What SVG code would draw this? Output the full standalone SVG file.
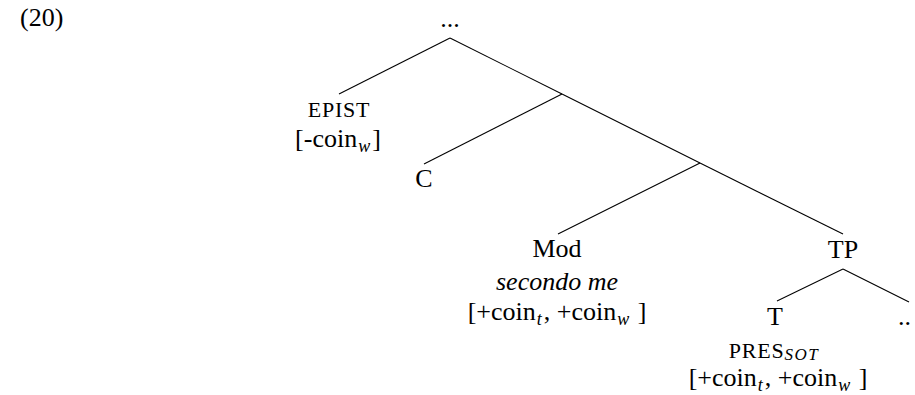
<svg xmlns="http://www.w3.org/2000/svg" width="915" height="395" viewBox="0 0 915 395">
<style>
text{font-family:"Liberation Serif","Times New Roman",serif;font-size:26px;fill:#000}
.c{text-anchor:middle}
.sc{font-size:22px;letter-spacing:0.8px}
.it{font-style:italic}
.sub{font-style:italic;font-size:18px}
.ssub{font-style:italic;font-size:17px;letter-spacing:1.5px}
.edge{stroke:#000;stroke-width:1.1;fill:none}
</style>
<rect width="915" height="395" fill="#fff"/>
<text x="20" y="26" font-size="25">(20)</text>
<g id="connectors">
<line class="edge" x1="450" y1="38" x2="339" y2="94"/>
<line class="edge" x1="450" y1="38" x2="562" y2="94"/>
<line class="edge" x1="562" y1="94" x2="424" y2="164"/>
<line class="edge" x1="562" y1="94" x2="700" y2="163"/>
<line class="edge" x1="700" y1="163" x2="558" y2="234"/>
<line class="edge" x1="700" y1="163" x2="843" y2="234"/>
<line class="edge" x1="843" y1="269" x2="777" y2="301"/>
<line class="edge" x1="843" y1="269" x2="909" y2="302"/>
</g>
<g id="root"><text class="c" x="450" y="27">...</text></g>
<g id="epist">
<text class="c sc" x="339" y="117">EPIST</text>
<text class="c" x="338" y="147">[-coin<tspan class="sub" dx="1" dy="5">w</tspan><tspan dx="2" dy="-5">]</tspan></text>
</g>
<g id="c"><text class="c" x="424" y="187">C</text></g>
<g id="mod">
<text class="c" x="557" y="257">Mod</text>
<text class="c it" x="557" y="290">secondo me</text>
<text class="c" x="557" y="320">[+coin<tspan class="sub" dx="1" dy="5">t</tspan><tspan dx="2" dy="-5">, +coin</tspan><tspan class="sub" dx="1" dy="5">w</tspan><tspan dx="2" dy="-5"> ]</tspan></text>
</g>
<g id="tp"><text class="c" x="843" y="258">TP</text></g>
<g id="t">
<text class="c" x="775" y="325">T</text>
<text class="c sc" x="774" y="358">PRES<tspan class="ssub" dy="2">SOT</tspan></text>
<text class="c" x="778" y="386">[+coin<tspan class="sub" dx="1" dy="5">t</tspan><tspan dx="2" dy="-5">, +coin</tspan><tspan class="sub" dx="1" dy="5">w</tspan><tspan dx="2" dy="-5"> ]</tspan></text>
</g>
<g id="dots"><text x="898" y="325">..</text></g>
</svg>
